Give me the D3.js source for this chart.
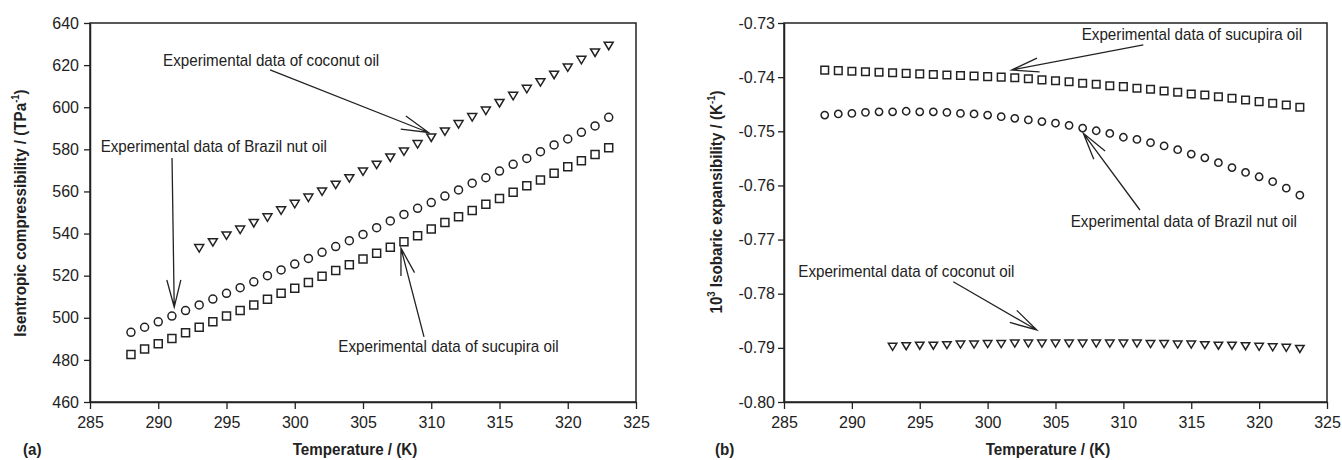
<!DOCTYPE html>
<html><head><meta charset="utf-8">
<script src="https://cdn.jsdelivr.net/npm/d3@7"></script>
<style>
body{margin:0;background:#fff;}
svg{display:block;font-family:"Liberation Sans",Arial,sans-serif;}
</style></head><body>
<svg id="c" width="1342" height="460"></svg>
<script>
// ---------- data ----------
const temperatures = [288,289,290,291,292,293,294,295,296,297,298,299,300,301,302,303,304,305,306,307,308,309,310,311,312,313,314,315,316,317,318,319,320,321,322,323];
const temperaturesCoconut = [293,294,295,296,297,298,299,300,301,302,303,304,305,306,307,308,309,310,311,312,313,314,315,316,317,318,319,320,321,322,323];

const ksBrazil = [493.1,495.5,498.1,500.8,503.4,506.1,508.9,511.6,514.3,517.1,520.0,522.7,525.5,528.2,531.1,533.8,536.6,539.6,542.8,546.0,549.1,552.0,554.7,557.8,560.7,563.9,566.5,569.7,572.9,575.7,578.9,582.1,584.9,588.1,591.1,595.2];
const ksSucupira = [482.6,485.2,487.7,490.2,492.9,495.5,498.1,500.8,503.4,506.1,508.8,511.6,514.0,516.8,519.7,522.5,525.2,527.9,530.6,533.5,536.1,539.0,542.2,545.2,548.0,550.9,553.9,556.7,559.6,562.7,565.4,568.6,571.7,574.6,577.6,580.8];
const ksCoconut = [533.0,535.8,539.0,541.8,544.9,547.6,550.9,554.0,557.0,559.9,563.1,566.2,569.4,572.6,576.0,578.9,582.4,585.5,588.4,591.9,595.2,598.3,601.9,605.3,608.6,611.8,615.3,618.8,622.4,625.9,629.1];

const alphaSucupira = [-0.7387,-0.7388,-0.7389,-0.7390,-0.7391,-0.7392,-0.7393,-0.7394,-0.7395,-0.7396,-0.7397,-0.7398,-0.7399,-0.7400,-0.7401,-0.7403,-0.7405,-0.74066,-0.74084,-0.74114,-0.74132,-0.74158,-0.74176,-0.74206,-0.74224,-0.74256,-0.7428,-0.74311,-0.7433,-0.74361,-0.7439,-0.74422,-0.74453,-0.74483,-0.74515,-0.74557];
const alphaBrazil = [-0.7470,-0.7468,-0.7467,-0.7465,-0.7464,-0.7464,-0.7463,-0.7464,-0.7464,-0.7465,-0.7467,-0.7468,-0.7470,-0.7473,-0.7476,-0.7479,-0.7482,-0.7485,-0.7489,-0.7494,-0.7499,-0.7504,-0.7511,-0.7515,-0.7521,-0.7527,-0.7534,-0.7542,-0.7549,-0.7558,-0.7567,-0.7576,-0.7584,-0.7593,-0.7605,-0.7618];
const alphaCoconut = [-0.7898,-0.7897,-0.7896,-0.7896,-0.7895,-0.7894,-0.7894,-0.7893,-0.7893,-0.7892,-0.7892,-0.7892,-0.7892,-0.7892,-0.7892,-0.7892,-0.7892,-0.7892,-0.7892,-0.7893,-0.7893,-0.7894,-0.7894,-0.7895,-0.7896,-0.7896,-0.7897,-0.7898,-0.7899,-0.7900,-0.7902];

const xTicks = [285,290,295,300,305,310,315,320,325];
const yTicksA = [460,480,500,520,540,560,580,600,620,640];
const yTicksB = [-0.80,-0.79,-0.78,-0.77,-0.76,-0.75,-0.74,-0.73];
const yTickLabelsB = ["-0.80","-0.79","-0.78","-0.77","-0.76","-0.75","-0.74","-0.73"];

const seriesLabels = ["Experimental data of coconut oil","Experimental data of Brazil nut oil","Experimental data of sucupira oil"];

// annotations in data units: label anchor, arrow tail, arrow tip
const annotationsA = [
  {text: seriesLabels[0], label:[290.35,619.6], tail:[298.19,617.7], tip:[309.80,588.0]},
  {text: seriesLabels[1], label:[285.78,578.7], tail:[291.01,575.9], tip:[291.17,505.1]},
  {text: seriesLabels[2], label:[303.19,483.7], tail:[309.47,490.9], tip:[307.78,533.1]}
];
const annotationsB = [
  {text: seriesLabels[2], label:[306.93,-0.73314], tail:[311.47,-0.73406], tip:[301.77,-0.73868]},
  {text: seriesLabels[1], label:[306.12,-0.76768], tail:[311.22,-0.76454], tip:[307.05,-0.75037]},
  {text: seriesLabels[0], label:[286.05,-0.77691], tail:[297.47,-0.77778], tip:[303.62,-0.78670]}
];

// ---------- drawing ----------
const svg = d3.select("#c");
const INK = "#222";
const SX = 0.95;

function txt(g, x, y, opt={}) {
  return g.append("text")
    .attr("transform", `translate(${x},${y})${opt.rotate?` rotate(${opt.rotate})`:""} scale(${SX},1)`)
    .attr("font-size", opt.size || 16)
    .attr("font-weight", opt.bold ? "bold" : "normal")
    .attr("text-anchor", opt.anchor || "start")
    .attr("fill", INK);
}

function panel(cfg) {
  const x = d3.scaleLinear().domain([285,325]).range(cfg.xr);
  const y = d3.scaleLinear().domain(cfg.yd).range([402,23]);
  const g = svg.append("g");

  // frame
  g.append("rect").attr("x",cfg.xr[0]).attr("y",23).attr("width",cfg.xr[1]-cfg.xr[0]).attr("height",402-23)
    .attr("fill","none").attr("stroke",INK).attr("stroke-width",1.5);

  const ax = g.append("g").attr("transform","translate(0,402)")
    .call(d3.axisBottom(x).tickValues(xTicks).tickSize(7).tickPadding(8).tickSizeOuter(0).tickFormat(d3.format("d")));
  const ay = g.append("g").attr("transform",`translate(${cfg.xr[0]},0)`)
    .call(d3.axisLeft(y).tickValues(cfg.yticks).tickSize(6).tickPadding(cfg.pad).tickSizeOuter(0).tickFormat(cfg.fmt));
  [ax,ay].forEach(a=>{
    a.select(".domain").attr("stroke",INK).attr("stroke-width",1.5);
    a.selectAll(".tick line").attr("stroke",INK).attr("stroke-width",1.3);
    a.selectAll(".tick text").attr("font-size",16).attr("fill",INK).attr("font-family","Liberation Sans, Arial, sans-serif");
  });

  // series
  const ms = cfg.ms;
  cfg.series.forEach(s=>{
    const data = s.t.map((t,i)=>({t, v:s.v[i]}));
    const sel = g.append("g").selectAll("path").data(data).join("path")
      .attr("transform", d=>`translate(${x(d.t)},${y(d.v)})`)
      .attr("fill","none").attr("stroke",INK).attr("stroke-width",1.5);
    if (s.shape==="circle") {
      const r = ms.c/2;
      sel.attr("d", `M${r},0A${r},${r},0,1,1,${-r},0A${r},${r},0,1,1,${r},0Z`);
    } else if (s.shape==="square") {
      const h = ms.s/2;
      sel.attr("d", `M${-h},${-h}H${h}V${h}H${-h}Z`);
    } else {
      const w = ms.tw/2, h = ms.th/2;
      sel.attr("d", `M${-w},${-h}H${w}L0,${h}Z`);
    }
  });

  // annotations
  cfg.ann.forEach(a=>{
    const [tx,ty] = [x(a.tip[0]), y(a.tip[1])];
    const [fx,fy] = [x(a.tail[0]), y(a.tail[1])];
    const ang = Math.atan2(fy-ty, fx-tx);
    const L = 28, da = 14.5*Math.PI/180;
    const p = d3.path();
    p.moveTo(fx,fy); p.lineTo(tx,ty);
    p.moveTo(tx+L*Math.cos(ang+da), ty+L*Math.sin(ang+da)); p.lineTo(tx,ty);
    p.lineTo(tx+L*Math.cos(ang-da), ty+L*Math.sin(ang-da));
    g.append("path").attr("d",p.toString()).attr("fill","none").attr("stroke",INK).attr("stroke-width",1.3);
    txt(g, x(a.label[0]), y(a.label[1])).text(a.text);
  });

  // axis titles
  txt(g, cfg.xtitleX, 455, {bold:true, anchor:"middle"}).text("Temperature / (K)");
  txt(g, cfg.panelX, 455, {bold:true}).text(cfg.panel);
  const yt = txt(g, cfg.ytitle[0], cfg.ytitle[1], {bold:true, anchor:"middle", rotate:-90});
  cfg.ytitleParts.forEach(pt=>{
    const ts = yt.append("tspan").text(pt.t);
    if (pt.sup) ts.attr("font-size",10).attr("dy",-7);
    else if (pt.after) ts.attr("dy",7);
  });
}

panel({
  xr:[90,636], yd:[460,640], yticks:yTicksA, pad:5, fmt:d3.format("d"),
  ms:{c:8,s:8,tw:9,th:7.5},
  series:[
    {t:temperatures, v:ksBrazil, shape:"circle"},
    {t:temperatures, v:ksSucupira, shape:"square"},
    {t:temperaturesCoconut, v:ksCoconut, shape:"triangle"}
  ],
  ann:annotationsA, xtitleX:355, panelX:23, panel:"(a)",
  ytitle:[26,213],
  ytitleParts:[{t:"Isentropic compressibility / (TPa"},{t:"-1",sup:true},{t:")",after:true}]
});

panel({
  xr:[784,1327], yd:[-0.80,-0.73], yticks:yTicksB, pad:3, fmt:(d,i)=>yTickLabelsB[i],
  ms:{c:7.3,s:7.6,tw:8.5,th:7},
  series:[
    {t:temperatures, v:alphaBrazil, shape:"circle"},
    {t:temperatures, v:alphaSucupira, shape:"square"},
    {t:temperaturesCoconut, v:alphaCoconut, shape:"triangle"}
  ],
  ann:annotationsB, xtitleX:1048, panelX:715, panel:"(b)",
  ytitle:[722,202],
  ytitleParts:[{t:"10"},{t:"3",sup:true},{t:" Isobaric expansibility / (K",after:true},{t:"-1",sup:true},{t:")",after:true}]
});
</script>
</body></html>
